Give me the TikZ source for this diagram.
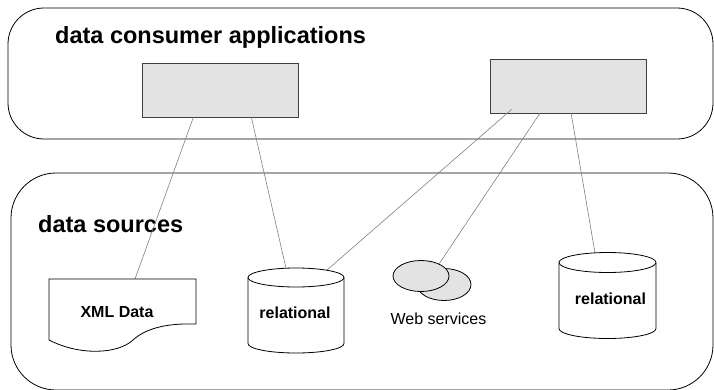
\documentclass[tikz,border=0pt]{standalone}
\usepackage{fontspec}
\setmainfont{Liberation Sans}
\usetikzlibrary{calc}
\begin{document}
\begin{tikzpicture}[x=1pt,y=-1pt,
  box/.style={draw=black, line width=0.8pt},
  app/.style={draw=black!75, fill=black!11, line width=0.9pt, minimum width=156pt, minimum height=54pt, inner sep=0pt},
  shp/.style={draw=black, fill=white, line width=0.8pt},
  wsell/.style={draw=black, fill=black!11, line width=0.8pt},
  link/.style={draw=black!50, line width=0.6pt},
  title/.style={font=\fontsize{23.5}{28}\selectfont\bfseries, anchor=base west, inner sep=0pt},
  lbl/.style={font=\fontsize{16}{19}\selectfont\bfseries, anchor=base, inner sep=0pt},
  plain/.style={font=\fontsize{16}{19}\selectfont, anchor=base, inner sep=0pt},
]
\useasboundingbox (0,0) rectangle (714,389);
% group frames
\draw[box, rounded corners=36pt] (8,8) rectangle (713,139);
\draw[box, rounded corners=45pt] (11,173) rectangle (713,390);
\node[title] (t1) at (55,43) {data consumer applications};
\node[title] (t2) at (38,232) {data sources};
% applications
\node[app] (appL) at (220,90) {};
\node[app] (appR) at (568,86) {};
% connector ends
\coordinate (xmltop) at (135,279);
\coordinate (cyla) at (286,268.2);
\coordinate (cylb) at (327,270);
\coordinate (wstop) at (439,264);
\coordinate (cylc) at (595,253);
% connectors
\draw[link] ($(appL.south west)!0.33!(appL.south east)$) -- (xmltop);
\draw[link] ($(appL.south west)!0.70!(appL.south east)$) -- (cyla);
\draw[link] ($(appR.south west)+(22,-4)$) -- (cylb);
\draw[link] ($(appR.south west)!0.32!(appR.south east)$) -- (wstop);
\draw[link] ($(appR.south west)!0.52!(appR.south east)$) -- (cylc);
% XML document
\draw[shp] (49,279) -- (196,279) -- (196,324)
  .. controls (165,323) and (145,329) .. (133,340)
  .. controls (118,354) and (80,356) .. (49,340) -- cycle;
\node[lbl] (xml) at (117,317) {XML Data};
% relational 1
\draw[shp] (248,277.5) -- (248,343.5) arc[start angle=180,end angle=0,x radius=48,y radius=9.5] -- (344,277.5);
\draw[shp] (296,277.5) ellipse[x radius=48, y radius=9.5];
\node[lbl] (rel1) at (295,318.5) {relational};
% web services
\draw[wsell] (444,284.5) ellipse[x radius=27, y radius=16];
\draw[wsell] (421,276) ellipse[x radius=28, y radius=15.5];
\node[plain] (ws) at (438.5,324) {Web services};
% relational 2
\draw[shp] (559,262.5) -- (559,328.5) arc[start angle=180,end angle=0,x radius=48.5,y radius=10] -- (656,262.5);
\draw[shp] (607.5,262.5) ellipse[x radius=48.5, y radius=10];
\node[lbl] (rel2) at (610.5,304) {relational};
\end{tikzpicture}
\end{document}
